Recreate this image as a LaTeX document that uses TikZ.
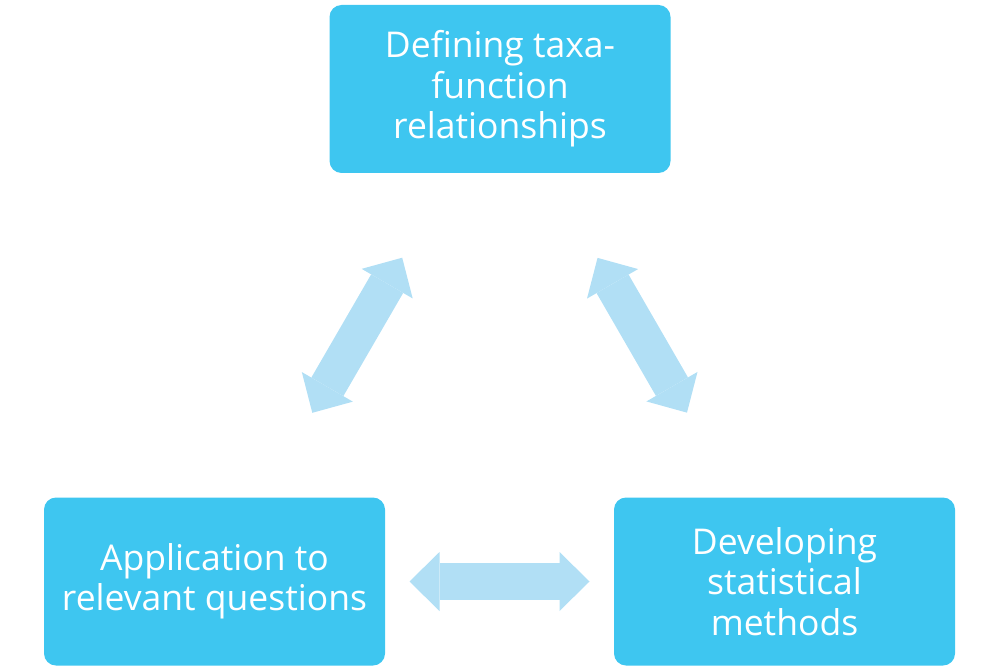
\documentclass[tikz,border=0pt]{standalone}
\usepackage{fontspec}
\setmainfont{Open Sans}
\usetikzlibrary{arrows.meta}
\definecolor{boxblue}{HTML}{3EC6F0}
\definecolor{arrowblue}{HTML}{B1DFF5}
\tikzset{
  stage/.style={draw=none, fill=boxblue, rounded corners=12pt, text=white,
    minimum width=341pt, minimum height=168pt, align=center, inner sep=0pt,
    font=\fontsize{35.5}{40.5}\selectfont},
  bigarrow/.style={draw=arrowblue, line width=37pt,
    {Triangle[length=30pt,width=59pt,line width=0pt,fill=arrowblue]}-{Triangle[length=30pt,width=59pt,line width=0pt,fill=arrowblue]},
    shorten <=195pt, shorten >=195pt}
}
\begin{document}
\begin{tikzpicture}[x=1pt,y=-1pt]
\useasboundingbox (0,0) rectangle (1000,671);
\node[stage] (top) at (500,89) {Defining taxa-\\function\\relationships};
\node[stage] (left) at (214.5,581.5) {Application to\\relevant questions};
\node[stage] (right) at (784.5,581.5) {Developing\\statistical\\methods};
\draw[bigarrow] (top.center) -- (left.center);
\draw[bigarrow] (top.center) -- (right.center);
\draw[bigarrow] (left.center) -- (right.center);
\end{tikzpicture}
\end{document}
